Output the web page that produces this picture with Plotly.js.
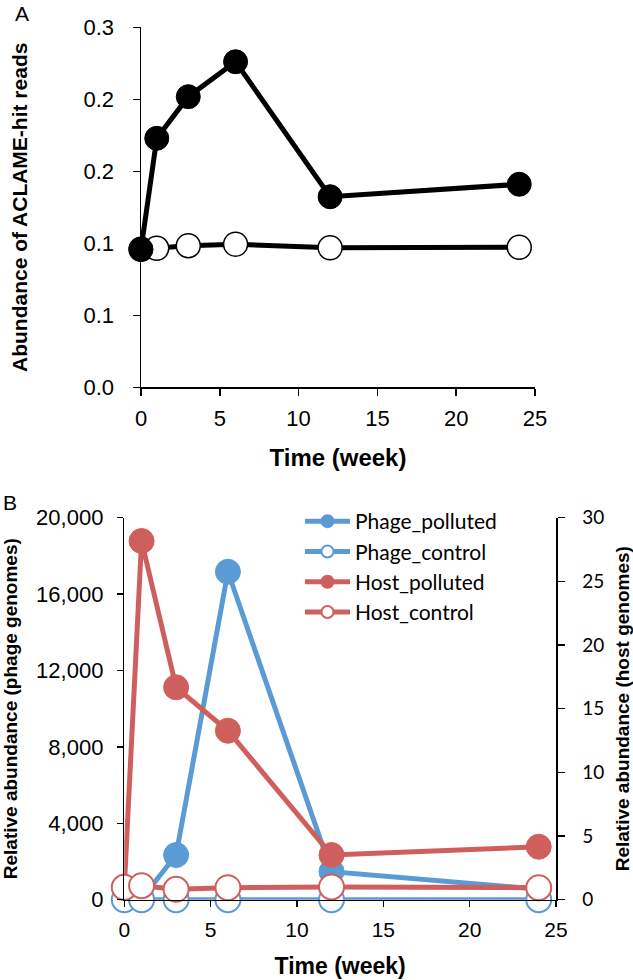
<!DOCTYPE html>
<html>
<head>
<meta charset="utf-8">
<script src="https://cdn.plot.ly/plotly-3.0.1.min.js"></script>
<style>
html,body{margin:0;padding:0;background:#fff;}
#chart{width:633px;height:980px;}
</style>
</head>
<body>
<div id="chart"></div>
<script>
// ---- Panel A data ----
var weeksA = [0, 1, 3, 6, 12, 24];
var aclamePolluted = [0.115, 0.2075, 0.2422, 0.2713, 0.1588, 0.1692];
var aclameControl  = [0.115, 0.1158, 0.118, 0.1192, 0.1163, 0.1167];
var tickValsA = [0, 0.06, 0.12, 0.18, 0.24, 0.30];
var tickTextA = ['0.0', '0.1', '0.1', '0.2', '0.2', '0.3'];

// ---- Panel B data ----
var weeksB = [0, 1, 3, 6, 12, 24];
var phagePolluted = [0, 50, 2340, 17170, 1470, 550];
var phageControl  = [0, 0, 0, 0, 0, 0];
var hostPolluted  = [1.0, 28.17, 16.68, 13.27, 3.51, 4.16];
var hostControl   = [0.97, 1.1, 0.82, 0.94, 1.0, 0.94];

var BLUE = '#5b9bd5';
var RED = '#cf5f5c';
var ARIAL = 'Liberation Sans, Arial, sans-serif';
var CAL = 'Lato, Open Sans, sans-serif';

var traces = [
  {x: weeksA, y: aclameControl, xaxis: 'x', yaxis: 'y', mode: 'lines+markers', showlegend: false,
   name: 'Control', cliponaxis: false,
   line: {color: '#000', width: 5},
   marker: {size: 24, color: '#fff', line: {color: '#000', width: 1.5}}},
  {x: weeksA, y: aclamePolluted, xaxis: 'x', yaxis: 'y', mode: 'lines+markers', showlegend: false,
   name: 'Polluted', cliponaxis: false,
   line: {color: '#000', width: 5},
   marker: {size: 24, color: '#000', line: {color: '#000', width: 1}}},

  {x: weeksB, y: phagePolluted, xaxis: 'x2', yaxis: 'y2', mode: 'lines+markers', name: 'Phage_polluted',
   cliponaxis: false, line: {color: BLUE, width: 5},
   marker: {size: 25, color: BLUE, line: {color: BLUE, width: 1}}},
  {x: weeksB, y: phageControl, xaxis: 'x2', yaxis: 'y2', mode: 'lines+markers', name: 'Phage_control',
   cliponaxis: false, line: {color: BLUE, width: 5},
   marker: {size: 25, color: '#fff', line: {color: BLUE, width: 2}}},
  {x: weeksB, y: hostPolluted, xaxis: 'x2', yaxis: 'y3', mode: 'lines+markers', name: 'Host_polluted',
   cliponaxis: false, line: {color: RED, width: 5},
   marker: {size: 25, color: RED, line: {color: RED, width: 1}}},
  {x: weeksB, y: hostControl, xaxis: 'x2', yaxis: 'y3', mode: 'lines+markers', name: 'Host_control',
   cliponaxis: false, line: {color: RED, width: 5},
   marker: {size: 25, color: '#fff', line: {color: RED, width: 2}}}
];

var W = 633, H = 980;
function px(v){ return v / W; }
function py(v){ return 1 - v / H; }

var axCommon = {showline: true, linecolor: '#000', linewidth: 1.5, showgrid: false, zeroline: false,
  ticks: 'outside', ticklen: 7, tickwidth: 1.5, tickcolor: '#000', automargin: false};

var layout = {
  width: W, height: H,
  margin: {l: 0, r: 0, t: 0, b: 0, pad: 0},
  paper_bgcolor: '#fff', plot_bgcolor: 'rgba(0,0,0,0)',
  font: {family: ARIAL, color: '#000'},
  xaxis: Object.assign({}, axCommon, {
    domain: [px(141), px(535)], anchor: 'y', range: [0, 25], tickvals: [0, 5, 10, 15, 20, 25],
    tickfont: {size: 22, family: ARIAL}, ticklabelstandoff: 4,
    title: {text: '<b>Time (week)</b>', font: {size: 24, family: ARIAL}, standoff: 19}
  }),
  yaxis: Object.assign({}, axCommon, {
    domain: [py(387.3), py(27.3)], anchor: 'x', range: [0, 0.3],
    tickvals: tickValsA, ticktext: tickTextA,
    tickfont: {size: 22, family: ARIAL}, ticklabelstandoff: 14,
    title: {text: '<b>Abundance of ACLAME-hit reads</b>', font: {size: 21, family: ARIAL}, standoff: 50}
  }),
  xaxis2: Object.assign({}, axCommon, {
    domain: [px(124.3), px(556)], anchor: 'y2', range: [0, 25], tickvals: [0, 5, 10, 15, 20, 25],
    ticklen: 6,
    tickfont: {size: 21, family: ARIAL}, ticklabelstandoff: 5,
    title: {text: '<b>Time (week)</b>', font: {size: 23, family: ARIAL}, standoff: 17}
  }),
  yaxis2: Object.assign({}, axCommon, {
    domain: [py(899.7), py(517.7)], anchor: 'x2', range: [0, 20000], dtick: 4000, tick0: 0,
    tickformat: ',d', ticklen: 6,
    tickfont: {size: 22, family: ARIAL}, ticklabelstandoff: 9,
    title: {text: '<b>Relative abundance (phage genomes)</b>', font: {size: 19, family: ARIAL}, standoff: 15}
  }),
  yaxis3: Object.assign({}, axCommon, {
    domain: [py(899.7), py(517.7)], anchor: 'x2', overlaying: 'y2', side: 'right',
    range: [0, 30], dtick: 5, tick0: 0,
    tickfont: {size: 19, family: CAL}, ticklabelstandoff: 14,
    title: {text: '<b>Relative abundance (host genomes)</b>', font: {size: 19, family: ARIAL}, standoff: 14}
  }),
  legend: {
    x: px(300), y: py(501), xanchor: 'left', yanchor: 'top',
    bgcolor: 'rgba(0,0,0,0)', borderwidth: 0,
    font: {family: CAL, size: 21, color: '#000'},
    itemsizing: 'constant', itemwidth: 45, traceorder: 'normal'
  },
  annotations: [
    {text: 'A', x: px(22), y: py(13), xref: 'paper', yref: 'paper', showarrow: false,
     font: {size: 21, family: ARIAL}, xanchor: 'center', yanchor: 'middle'},
    {text: 'B', x: px(10), y: py(502), xref: 'paper', yref: 'paper', showarrow: false,
     font: {size: 21, family: ARIAL}, xanchor: 'center', yanchor: 'middle'}
  ]
};

Plotly.newPlot('chart', traces, layout, {displayModeBar: false, staticPlot: true});
</script>
</body>
</html>
